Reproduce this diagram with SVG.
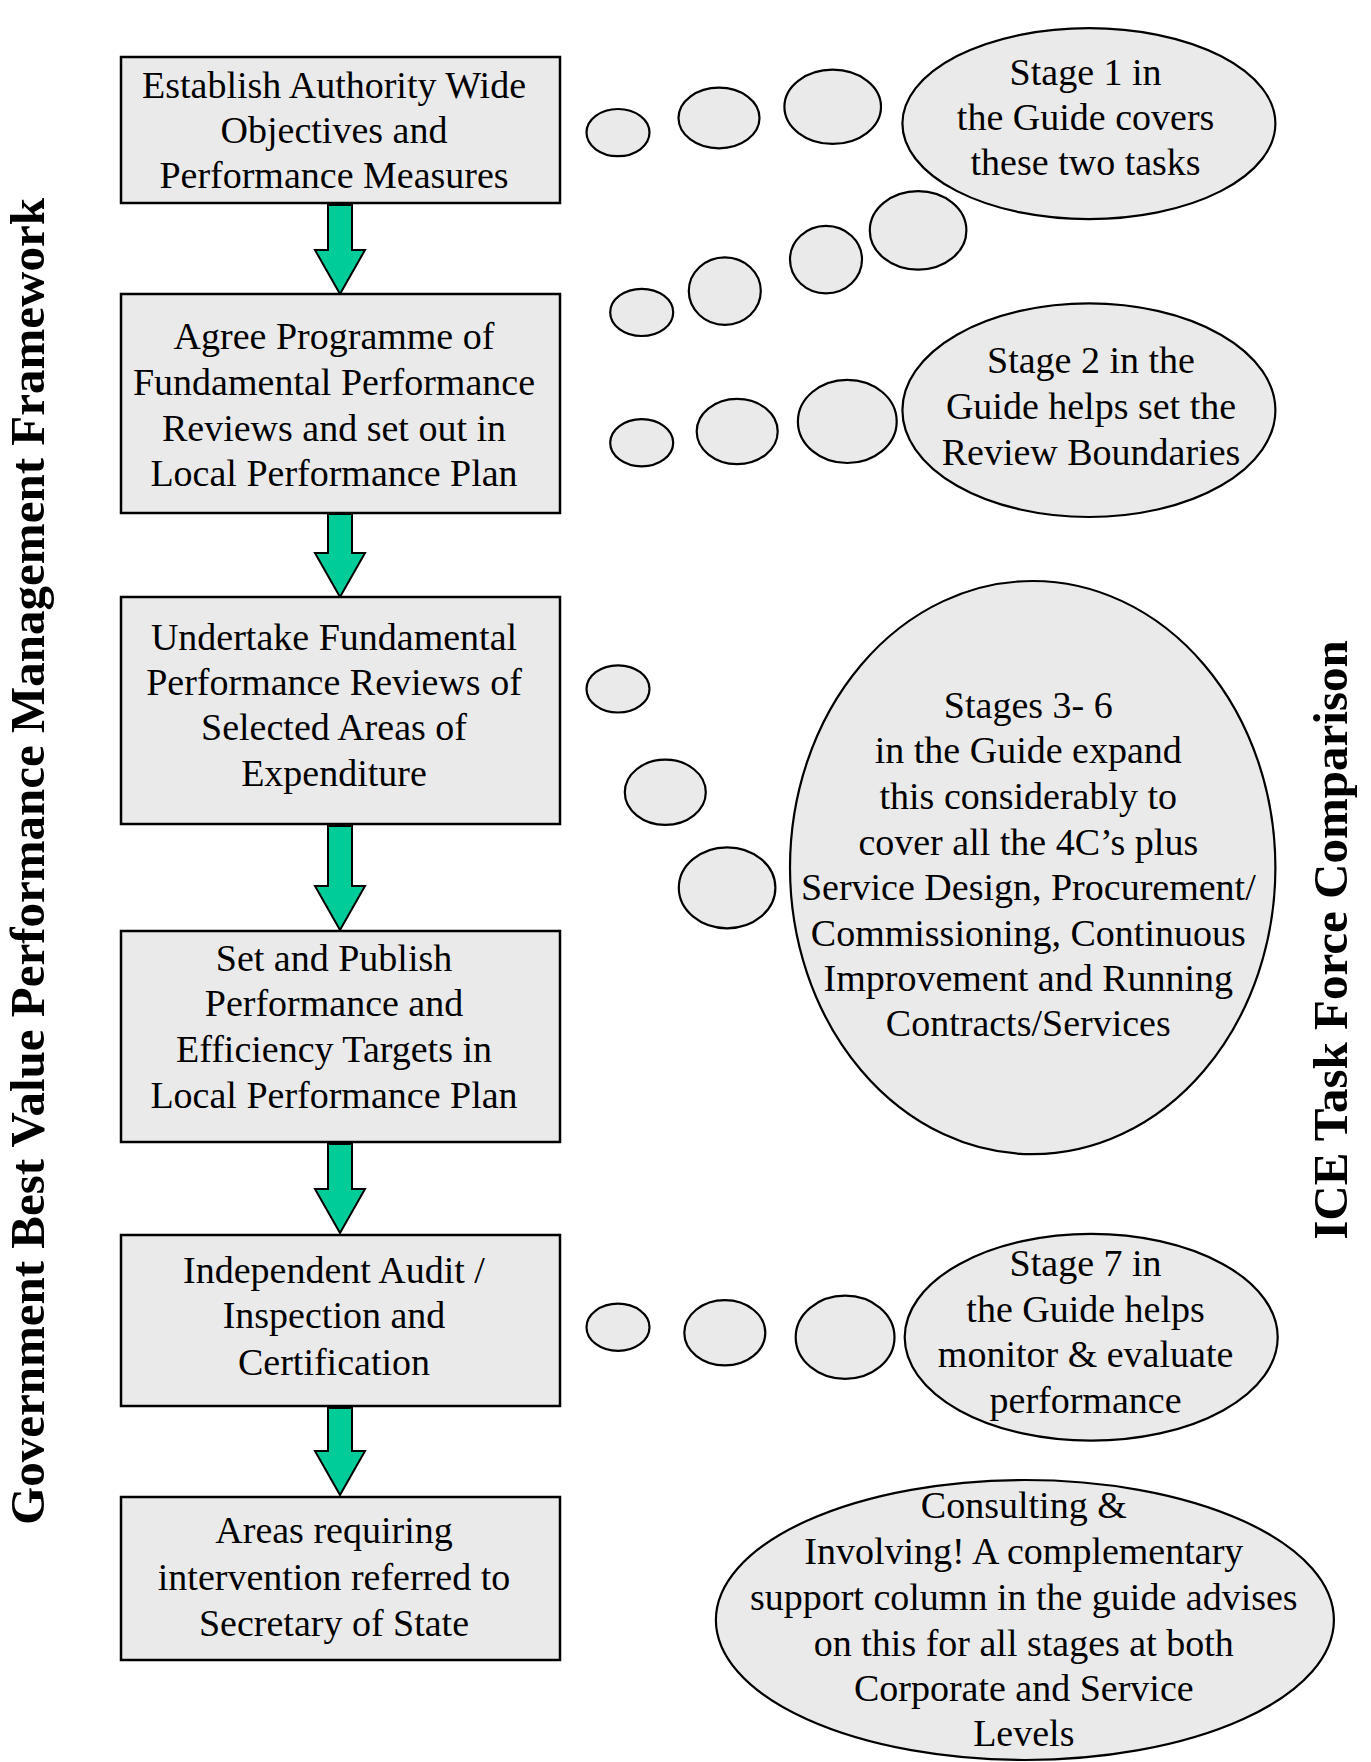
<svg xmlns="http://www.w3.org/2000/svg" width="1371" height="1762" viewBox="0 0 1371 1762">
  <defs>
    <style>
      .box { fill: #eaeaea; stroke: #000; stroke-width: 2.5; }
      .bubble { fill: #eaeaea; stroke: #000; stroke-width: 2.2; }
      .flow { fill: #00cc99; stroke: #000; stroke-width: 2; stroke-linejoin: miter; }
      .t { font-family: "Liberation Serif", "Times New Roman", serif; font-size: 38px; fill: #000; text-anchor: middle; }
      .title { font-family: "Liberation Serif", "Times New Roman", serif; font-size: 49px; font-weight: bold; fill: #000; text-anchor: middle; }
    </style>
  </defs>
  <rect width="1371" height="1762" fill="#fff"/>

  <!-- side titles -->
  <text class="title" transform="translate(44 861.5) rotate(-90)">Government Best Value Performance Management Framework</text>
  <text class="title" transform="translate(1347 940) rotate(-90)">ICE Task Force Comparison</text>

  <!-- flow arrows between process steps -->
  <g id="connectors">
    <path class="flow" d="M 328 205 H 352 V 250 H 365 L 340 294 L 315 250 H 328 Z"/>
    <path class="flow" d="M 328 514 H 352 V 553 H 365 L 340 597 L 315 553 H 328 Z"/>
    <path class="flow" d="M 328 826 H 352 V 886 H 365 L 340 930 L 315 886 H 328 Z"/>
    <path class="flow" d="M 328 1144 H 352 V 1189 H 365 L 340 1233 L 315 1189 H 328 Z"/>
    <path class="flow" d="M 328 1408 H 352 V 1451 H 365 L 340 1495 L 315 1451 H 328 Z"/>
  </g>

  <!-- thought-bubble trails leading to the guide notes -->
  <g id="bubble-trails">
    <ellipse class="bubble" cx="618" cy="132.6" rx="31.5" ry="23.6"/>
    <ellipse class="bubble" cx="719" cy="118" rx="40.5" ry="30.3"/>
    <ellipse class="bubble" cx="832.7" cy="106.8" rx="48.3" ry="37.1"/>

    <ellipse class="bubble" cx="641.7" cy="312.4" rx="31.5" ry="23.6"/>
    <ellipse class="bubble" cx="724.8" cy="291.1" rx="36" ry="33.7"/>
    <ellipse class="bubble" cx="826" cy="259.6" rx="36" ry="33.7"/>
    <ellipse class="bubble" cx="918.1" cy="230.4" rx="48.3" ry="39.3"/>

    <ellipse class="bubble" cx="641.7" cy="442.8" rx="31.5" ry="23.6"/>
    <ellipse class="bubble" cx="737.2" cy="431.5" rx="40.5" ry="32.6"/>
    <ellipse class="bubble" cx="847.3" cy="421.4" rx="49.4" ry="41.6"/>

    <ellipse class="bubble" cx="618" cy="688.9" rx="31.5" ry="23.6"/>
    <ellipse class="bubble" cx="665.3" cy="792.3" rx="40.5" ry="32.6"/>
    <ellipse class="bubble" cx="727.1" cy="887.8" rx="48.3" ry="40.5"/>

    <ellipse class="bubble" cx="618" cy="1327.2" rx="31.5" ry="23.6"/>
    <ellipse class="bubble" cx="724.8" cy="1332.8" rx="40.5" ry="32.6"/>
    <ellipse class="bubble" cx="845.1" cy="1337.3" rx="49.4" ry="41.6"/>
  </g>

  <!-- process steps -->
  <g id="step1">
    <rect class="box" x="121" y="57" width="439" height="146"/>
    <text class="t" x="334" y="98">Establish Authority Wide</text>
    <text class="t" x="334" y="143">Objectives and</text>
    <text class="t" x="334" y="188">Performance Measures</text>
  </g>
  <g id="step2">
    <rect class="box" x="121" y="294" width="439" height="219"/>
    <text class="t" x="334" y="349">Agree Programme of</text>
    <text class="t" x="334" y="395">Fundamental Performance</text>
    <text class="t" x="334" y="441">Reviews and set out in</text>
    <text class="t" x="334" y="486">Local Performance Plan</text>
  </g>
  <g id="step3">
    <rect class="box" x="121" y="597" width="439" height="227"/>
    <text class="t" x="334" y="650">Undertake Fundamental</text>
    <text class="t" x="334" y="695">Performance Reviews of</text>
    <text class="t" x="334" y="740">Selected Areas of</text>
    <text class="t" x="334" y="786">Expenditure</text>
  </g>
  <g id="step4">
    <rect class="box" x="121" y="931" width="439" height="211"/>
    <text class="t" x="334" y="971">Set and Publish</text>
    <text class="t" x="334" y="1016">Performance and</text>
    <text class="t" x="334" y="1062">Efficiency Targets in</text>
    <text class="t" x="334" y="1108">Local Performance Plan</text>
  </g>
  <g id="step5">
    <rect class="box" x="121" y="1235" width="439" height="171"/>
    <text class="t" x="334" y="1283">Independent Audit /</text>
    <text class="t" x="334" y="1328">Inspection and</text>
    <text class="t" x="334" y="1375">Certification</text>
  </g>
  <g id="step6">
    <rect class="box" x="121" y="1497" width="439" height="163"/>
    <text class="t" x="334" y="1543">Areas requiring</text>
    <text class="t" x="334" y="1590">intervention referred to</text>
    <text class="t" x="334" y="1636">Secretary of State</text>
  </g>

  <!-- guide notes -->
  <g id="note-stage1">
    <ellipse class="bubble" cx="1088.9" cy="123.6" rx="186.5" ry="95.5"/>
    <text class="t" x="1085.6" y="85">Stage 1 in</text>
    <text class="t" x="1085.6" y="130">the Guide covers</text>
    <text class="t" x="1085.6" y="175">these two tasks</text>
  </g>
  <g id="note-stage2">
    <ellipse class="bubble" cx="1088.9" cy="410.2" rx="186.5" ry="106.8"/>
    <text class="t" x="1091" y="373">Stage 2 in the</text>
    <text class="t" x="1091" y="419">Guide helps set the</text>
    <text class="t" x="1091" y="465">Review Boundaries</text>
  </g>
  <g id="note-stages3-6">
    <ellipse class="bubble" cx="1032.7" cy="867.6" rx="242.7" ry="286.6"/>
    <text class="t" x="1028.3" y="718">Stages 3- 6</text>
    <text class="t" x="1028.3" y="763">in the Guide expand</text>
    <text class="t" x="1028.3" y="809">this considerably to</text>
    <text class="t" x="1028.3" y="855">cover all the 4C’s plus</text>
    <text class="t" x="1028.3" y="900">Service Design, Procurement/</text>
    <text class="t" x="1028.3" y="946">Commissioning, Continuous</text>
    <text class="t" x="1028.3" y="991">Improvement and Running</text>
    <text class="t" x="1028.3" y="1036">Contracts/Services</text>
  </g>
  <g id="note-stage7">
    <ellipse class="bubble" cx="1091.2" cy="1337.3" rx="186.5" ry="103.4"/>
    <text class="t" x="1085.6" y="1276">Stage 7 in</text>
    <text class="t" x="1085.6" y="1322">the Guide helps</text>
    <text class="t" x="1085.6" y="1367">monitor &amp; evaluate</text>
    <text class="t" x="1085.6" y="1413">performance</text>
  </g>
  <g id="note-consulting">
    <ellipse class="bubble" cx="1024.9" cy="1620" rx="309" ry="140"/>
    <text class="t" x="1023.8" y="1518">Consulting &amp;</text>
    <text class="t" x="1023.8" y="1564">Involving! A complementary</text>
    <text class="t" x="1023.8" y="1610">support column in the guide advises</text>
    <text class="t" x="1023.8" y="1656">on this for all stages at both</text>
    <text class="t" x="1023.8" y="1701">Corporate and Service</text>
    <text class="t" x="1023.8" y="1746">Levels</text>
  </g>
</svg>
